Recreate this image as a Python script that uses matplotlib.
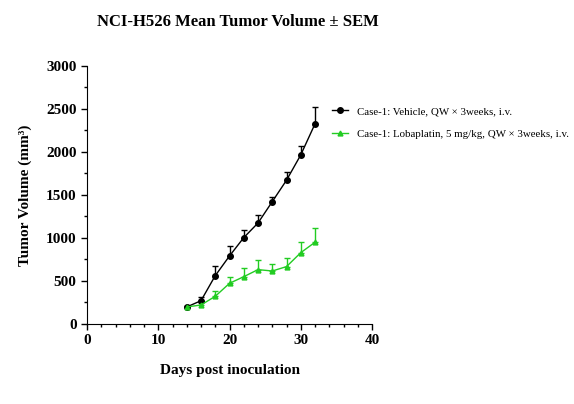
import numpy as np
import matplotlib.pyplot as plt
from matplotlib.ticker import MultipleLocator
from matplotlib.lines import Line2D

days = [14, 16, 18, 20, 22, 24, 26, 28, 30, 32]
vehicle = [198, 271, 562, 791, 1004, 1174, 1422, 1671, 1965, 2326]
vehicle_sem = [12, 43, 112, 112, 89, 93, 59, 100, 105, 201]
loba = [198, 221, 322, 473, 550, 632, 616, 667, 829, 950]
loba_sem = [10, 30, 65, 77, 97, 112, 85, 100, 128, 166]

labels = ["Case-1: Vehicle, QW × 3weeks, i.v.",
          "Case-1: Lobaplatin, 5 mg/kg, QW × 3weeks, i.v."]
green = '#22cc22'

plt.rcParams['font.family'] = ['Liberation Serif', 'DejaVu Serif']

fig = plt.figure(figsize=(5.74, 4.04), dpi=100)
ax = fig.add_axes([0.1516, 0.198, 0.4965, 0.639])

z = np.zeros(len(days))
ax.errorbar(days, vehicle, yerr=[z, vehicle_sem], color='black', marker='o',
            markersize=4, lw=1, elinewidth=1, capsize=2.5, capthick=1)
ax.errorbar(days, loba, yerr=[z, loba_sem], color=green, marker='^',
            markersize=3.5, lw=1, elinewidth=1, capsize=2.5, capthick=1)

ax.set_xlim(0, 40)
ax.set_ylim(0, 3000)
ax.xaxis.set_major_locator(MultipleLocator(10))
ax.xaxis.set_minor_locator(MultipleLocator(2))
ax.yaxis.set_major_locator(MultipleLocator(500))
ax.yaxis.set_minor_locator(MultipleLocator(250))
ax.spines['top'].set_visible(False)
ax.spines['right'].set_visible(False)
ax.tick_params(which='major', length=4, width=1, direction='out')
ax.tick_params(which='minor', length=2, width=1, direction='out')
for t in ax.get_xticklabels() + ax.get_yticklabels():
    t.set_fontweight('bold')
    t.set_fontsize(11)

ax.set_xlabel("Days post inoculation", fontsize=11, fontweight='bold', labelpad=12)
ax.set_ylabel("Tumor Volume (mm³)", fontsize=11, fontweight='bold', labelpad=10)
fig.text(0.415, 0.945, "NCI-H526 Mean Tumor Volume ± SEM", ha='center', va='center',
         fontsize=12, fontweight='bold')

handles = [Line2D([], [], color='black', marker='o', markersize=4, lw=1),
           Line2D([], [], color=green, marker='^', markersize=3.5, lw=1)]
ax.legend(handles, labels, loc='upper left', bbox_to_anchor=(0.86, 0.843),
          frameon=False, fontsize=7.8, handlelength=1.5, handletextpad=0.8,
          labelspacing=1.2, borderpad=0, borderaxespad=0)

fig.savefig("out.png", dpi=100)
